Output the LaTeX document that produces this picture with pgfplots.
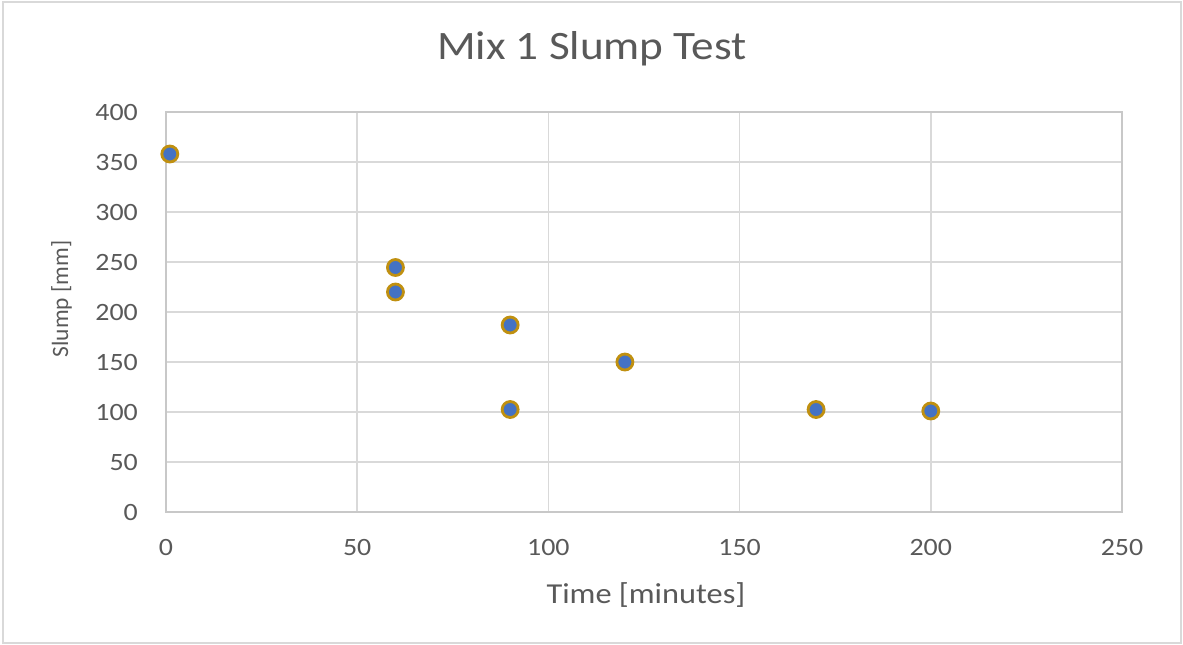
\documentclass[border=0pt]{standalone}
\usepackage{fontspec}
\setmainfont{Carlito}[FakeStretch=1.12]
\newfontfamily\plainfont{Carlito}
\usepackage{pgfplots}
\pgfplotsset{compat=1.18}
\definecolor{txt}{HTML}{595959}
\definecolor{gridc}{HTML}{D9D9D9}
\definecolor{axc}{HTML}{C8C8C8}
\definecolor{mfill}{HTML}{4472C4}
\definecolor{medge}{HTML}{C09010}
\begin{document}
\begin{tikzpicture}
\useasboundingbox (0,0) rectangle (1183bp,-645bp);
\draw[gridc, line width=1.5bp] (3bp,-2bp) rectangle (1181bp,-643bp);
\begin{axis}[
  at={(166bp,-512bp)}, anchor=south west,
  width=956bp, height=400bp, scale only axis,
  xmin=0, xmax=250, ymin=0, ymax=400,
  xtick={0,50,...,250}, ytick={0,50,...,400},
  grid=major, major grid style={gridc, line width=1.5bp},
  axis line style={axc, line width=1.5bp},
  tick style={draw=none},
  clip=false,
  /pgf/number format/assume math mode=true,
  ticklabel style={font=\fontsize{25}{25}\selectfont, text=txt, inner sep=0pt},
  xticklabel style={anchor=center, yshift=-35bp},
  yticklabel style={anchor=east, xshift=-28bp},
  title={Mix 1 Slump Test},
  title style={at={(axis description cs:0.4456,1.1175)}, anchor=base, font=\fontsize{40.5}{40.5}\selectfont, text=txt, inner sep=0pt},
  xlabel={Time [minutes]},
  xlabel style={at={(axis description cs:0.502,-0.2275)}, anchor=base, font=\fontsize{29}{29}\selectfont, text=txt, inner sep=0pt},
  ylabel={Slump [mm]},
  ylabel style={at={(axis description cs:-0.1025,0.5325)}, anchor=base, rotate=0, font=\plainfont\fontsize{23.5}{23.5}\selectfont, text=txt, inner sep=0pt},
]
\addplot[only marks, mark=*, mark size=8bp, mark options={fill=mfill, draw=medge, line width=2.8bp}]
coordinates {
(1,358) (60,244.5) (60,220) (90,187) (90,102.5) (120,150) (170,102.5) (200,101)
};
\end{axis}
\end{tikzpicture}
\end{document}
